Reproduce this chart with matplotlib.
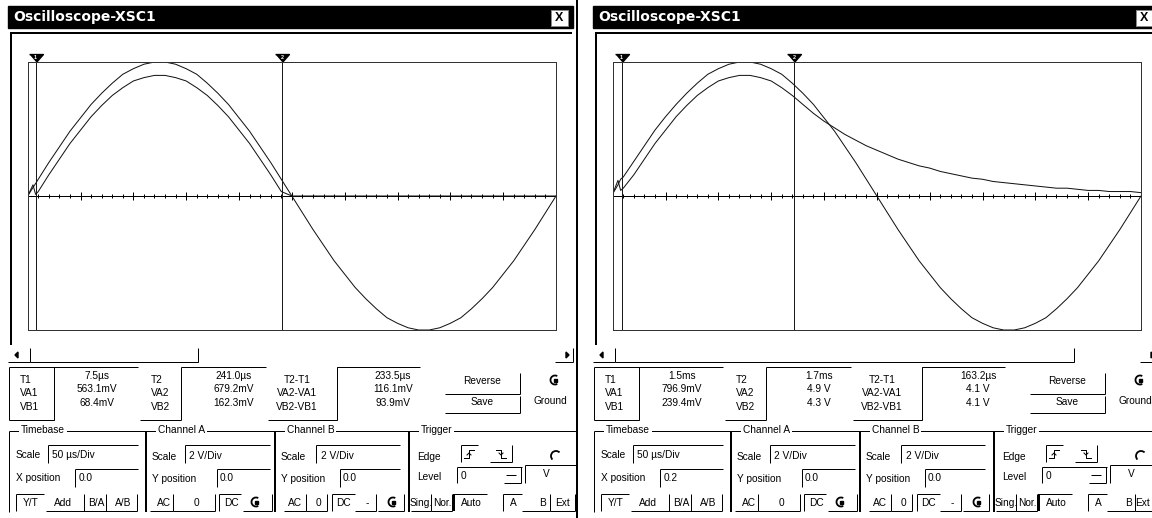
import numpy as np
import matplotlib
matplotlib.use("Agg")
import matplotlib.pyplot as plt
from matplotlib.patches import Rectangle, Arc, Polygon

# ---------------------------------------------------------------------------
# Data
# ---------------------------------------------------------------------------

# screen time of each sample (µs from the left edge), 50 µs/div x 10 div
t_us = [0, 5, 7.5, 10, 20, 30, 40, 50, 60, 70, 80, 90,
        100, 110, 120, 130, 140, 150, 160, 170, 180, 190,
        200, 210, 220, 230, 240, 250, 260, 270, 280, 290,
        300, 310, 320, 330, 340, 350, 360, 370, 380, 390,
        400, 410, 420, 430, 440, 450, 460, 470, 480, 490, 500]

# channel A (source) and channel B (rectifier output), volts
va_left = [0.0, 0.38, 0.56, 0.75, 1.5, 2.2, 2.9, 3.5, 4.1, 4.6, 5.05, 5.45,
           5.7, 5.9, 6.0, 6.0, 5.9, 5.7, 5.45, 5.05, 4.6, 4.1,
           3.5, 2.9, 2.2, 1.5, 0.75, 0.0, -0.75, -1.5, -2.2, -2.9,
           -3.5, -4.1, -4.6, -5.05, -5.45, -5.7, -5.9, -6.0, -6.0, -5.9,
           -5.7, -5.45, -5.05, -4.6, -4.1, -3.5, -2.9, -2.2, -1.5, -0.75, 0.0]
vb_left = [0.0, 0.5, 0.07, 0.2, 0.95, 1.65, 2.35, 2.95, 3.55, 4.05, 4.5, 4.85,
           5.15, 5.3, 5.4, 5.4, 5.3, 5.15, 4.85, 4.5, 4.05, 3.55,
           2.95, 2.35, 1.65, 0.95, 0.2, 0.0, 0.0, 0.0, 0.0, 0.0,
           0.0, 0.0, 0.0, 0.0, 0.0, 0.0, 0.0, 0.0, 0.0, 0.0,
           0.0, 0.0, 0.0, 0.0, 0.0, 0.0, 0.0, 0.0, 0.0, 0.0, 0.0]
va_right = [0.1, 0.5, 0.75, 0.85, 1.55, 2.25, 2.95, 3.55, 4.1, 4.6, 5.05, 5.45,
            5.7, 5.9, 6.0, 6.0, 5.9, 5.7, 5.45, 5.05, 4.6, 4.1,
            3.5, 2.9, 2.2, 1.5, 0.75, 0.0, -0.75, -1.5, -2.2, -2.9,
            -3.5, -4.1, -4.6, -5.05, -5.45, -5.7, -5.9, -6.0, -6.0, -5.9,
            -5.7, -5.45, -5.05, -4.6, -4.1, -3.5, -2.9, -2.2, -1.5, -0.75, 0.0]
vb_right = [0.1, 0.7, 0.25, 0.35, 0.95, 1.65, 2.35, 2.95, 3.55, 4.05, 4.5, 4.85,
            5.15, 5.3, 5.4, 5.4, 5.3, 5.15, 4.85, 4.5, 4.1, 3.7,
            3.35, 3.05, 2.75, 2.5, 2.25, 2.05, 1.85, 1.65, 1.5, 1.35,
            1.25, 1.1, 1.0, 0.9, 0.8, 0.75, 0.65, 0.6, 0.55, 0.5,
            0.45, 0.4, 0.35, 0.35, 0.3, 0.25, 0.25, 0.2, 0.2, 0.2, 0.15]

cursors_left = [7.5, 241.0]     # T1, T2 on screen (µs)
cursors_right = [8.5, 171.7]

meas_labels = [["T1", "VA1", "VB1"],
               ["T2", "VA2", "VB2"],
               ["T2-T1", "VA2-VA1", "VB2-VB1"]]
meas_left = [["7.5µs", "563.1mV", "68.4mV"],
             ["241.0µs", "679.2mV", "162.3mV"],
             ["233.5µs", "116.1mV", "93.9mV"]]
meas_right = [["1.5ms", "796.9mV", "239.4mV"],
              ["1.7ms", "4.9 V", "4.3 V"],
              ["163.2µs", "4.1 V", "4.1 V"]]

timebase_scale = "50 µs/Div"
xpos_left = "0.0"
xpos_right = "0.2"
cha_scale = "2 V/Div"
chb_scale = "2 V/Div"
cha_ypos = "0.0"
chb_ypos = "0.0"
trig_level = "0"
title = "Oscilloscope-XSC1"

# ---------------------------------------------------------------------------
# Canvas (pixel coordinates for the window chrome)
# ---------------------------------------------------------------------------

W, H = 1152, 518
PX = 0.72          # one pixel in points at dpi 100
FS = 7.3
plt.rcParams["font.family"] = ["Liberation Sans", "DejaVu Sans"]

fig = plt.figure(figsize=(W / 100, H / 100), dpi=100)
ui = fig.add_axes([0, 0, 1, 1])
ui.set_xlim(0, W)
ui.set_ylim(H, 0)
ui.axis("off")


def hline(x0, x1, y, w=1, c="k"):
    ui.plot([x0, x1], [y, y], color=c, lw=w * PX, solid_capstyle="butt")


def vline(x, y0, y1, w=1, c="k"):
    ui.plot([x, x], [y0, y1], color=c, lw=w * PX, solid_capstyle="butt")


def raised(x0, y0, x1, y1):
    hline(x0, x1, y1)
    vline(x1, y0, y1)


def sunken(x0, y0, x1, y1, w=1):
    hline(x0, x1, y0)
    vline(x0, y0, y1, w)


def txt(x, y, s, ha="left", size=FS, **kw):
    ui.text(x, y, s, ha=ha, va="center", fontsize=size, color="k", **kw)


def ground_icon(x, y):
    ui.add_patch(Arc((x, y), 9, 9, theta1=60, theta2=300, lw=1.8 * PX))
    ui.add_patch(Rectangle((x - 1, y - 1.5), 3, 3, color="k"))


def edge_symbol(x, y, rising):
    a, b = (4, -4) if rising else (-4, 4)
    ui.plot([x - 5, x, x, x + 5], [y + a, y + a, y + b, y + b], color="k", lw=PX)
    d = 1 if rising else -1
    ui.plot([x - 2, x, x + 2], [y + d, y - d, y + d], color="k", lw=PX)


def scope(ox, va, vb, cur):
    x0, x1, y0, y1 = ox + 27.7, ox + 556, 62, 330
    ax = fig.add_axes([x0 / W, 1 - y1 / H, (x1 - x0) / W, (y1 - y0) / H])
    ax.set_xlim(0, 500)
    ax.set_ylim(-6, 6)
    ax.set_xticks([])
    ax.set_yticks([])
    for s in ax.spines.values():
        s.set_color("#333333")
        s.set_linewidth(PX)
    ax.axhline(0, color="k", lw=PX)
    minor = np.arange(0, 501, 10)
    major = np.arange(0, 501, 50)
    ax.plot(minor, np.zeros(len(minor)), ls="none", marker="|", ms=2.9, mew=PX, color="k")
    ax.plot(major, np.zeros(len(major)), ls="none", marker="|", ms=5.8, mew=PX, color="k")
    ax.plot(t_us, np.clip(va, -6, 6), color="#111111", lw=PX)
    ax.plot(t_us, vb, color="#111111", lw=PX)
    tri = [(-7, 4), (7, 4), (0, -4)]
    for i, c in enumerate(cur):
        ax.axvline(c, color="#1a1a1a", lw=PX)
        ax.plot([c], [6.18], marker=tri, ms=10, color="k", clip_on=False)
        ax.text(c, 6.22, str(i + 1), fontsize=4, color="w", ha="center",
                va="center", clip_on=False, fontweight="bold")
    return ax


def window(ox, va, vb, cur, meas, xpos, thumb):
    # title bar
    ui.add_patch(Rectangle((ox + 8, 6), 565, 22, color="k"))
    ui.text(ox + 13, 17.5, title, color="w", fontsize=10, fontweight="bold",
            va="center", family=["DejaVu Sans"])
    ui.add_patch(Rectangle((ox + 551, 10), 17, 16, fc="w", ec="#888888", lw=PX))
    ui.text(ox + 559.5, 18, "X", fontsize=9, fontweight="bold", ha="center", va="center")

    # sunken display panel
    hline(ox + 10, ox + 572, 33, 2)
    vline(ox + 11, 33, 345, 2)
    scope(ox, va, vb, cur)

    # scroll bar
    raised(ox + 8, 348, ox + 30, 362)
    ui.add_patch(Polygon([(ox + 15, 355), (ox + 18, 352), (ox + 18, 358)], color="k"))
    raised(ox + 30, 348, ox + thumb[1], 362)
    hline(ox + thumb[0], ox + thumb[1], 362)
    raised(ox + 555, 348, ox + 573, 362)
    ui.add_patch(Polygon([(ox + 569, 355), (ox + 566, 352), (ox + 566, 358)], color="k"))

    # measurement table
    sunken(ox + 9, 367, ox + 138, 420)
    raised(ox + 9, 367, ox + 54, 420)
    vline(ox + 54, 367, 420)
    raised(ox + 140, 367, ox + 181, 420)
    hline(ox + 181, ox + 266, 367)
    raised(ox + 268, 367, ox + 337, 420)
    hline(ox + 337, ox + 420, 367)
    vline(ox + 337, 367, 420)
    label_x = [(ox + 20, "left"), (ox + 151, "left"), (ox + 297, "center")]
    value_x = [ox + 97, ox + 234, ox + 393]
    for col in range(3):
        for row in range(3):
            txt(label_x[col][0], 380 + 13.3 * row, meas_labels[col][row], ha=label_x[col][1])
            txt(value_x[col], 376 + 13.3 * row, meas[col][row], ha="center")

    # Reverse / Save / Ground
    raised(ox + 445, 373, ox + 520, 394)
    txt(ox + 482, 381, "Reverse", ha="center")
    raised(ox + 445, 396, ox + 520, 413)
    txt(ox + 482, 402, "Save", ha="center")
    ground_icon(ox + 555, 380)
    txt(ox + 550, 401, "Ground", ha="center")

    # group boxes
    for gx, name, w in [(9, "Timebase", 1), (146, "Channel A", 2),
                        (275, "Channel B", 2), (409, "Trigger", 2)]:
        vline(ox + gx, 431, 512, w)
        hline(ox + gx, ox + 575, 431)
        ui.text(ox + gx + 12, 430, name, ha="left", va="center", fontsize=FS,
                bbox=dict(fc="w", ec="none", pad=1.2))

    # Timebase
    txt(ox + 16, 455, "Scale")
    sunken(ox + 48, 445, ox + 138, 463)
    txt(ox + 52, 455, timebase_scale)
    txt(ox + 16, 478, "X position")
    sunken(ox + 75, 469, ox + 138, 487)
    txt(ox + 79, 478, xpos)
    sunken(ox + 16, 494, ox + 44, 511)
    txt(ox + 31, 503, "Y/T", ha="center")
    hline(ox + 46, ox + 137, 511)
    for rx, lab, cx in [(84, "Add", 63), (106, "B/A", 96), (137, "A/B", 123)]:
        vline(ox + rx, 494, 511)
        txt(ox + cx, 503, lab, ha="center")

    # Channel A
    txt(ox + 152, 457, "Scale")
    sunken(ox + 185, 445, ox + 270, 463)
    txt(ox + 189, 456, cha_scale)
    txt(ox + 152, 479, "Y position")
    sunken(ox + 217, 469, ox + 270, 487)
    txt(ox + 220, 478, cha_ypos)
    raised(ox + 150, 494, ox + 173, 511)
    txt(ox + 164, 503, "AC", ha="center")
    raised(ox + 173, 494, ox + 215, 511)
    txt(ox + 196, 503, "0", ha="center")
    sunken(ox + 219, 494, ox + 241, 511)
    txt(ox + 231, 503, "DC", ha="center")
    raised(ox + 243, 494, ox + 272, 511)
    ground_icon(ox + 256, 502)

    # Channel B
    txt(ox + 281, 457, "Scale")
    sunken(ox + 316, 445, ox + 400, 463)
    txt(ox + 321, 456, chb_scale)
    txt(ox + 281, 479, "Y position")
    sunken(ox + 340, 469, ox + 400, 487)
    txt(ox + 343, 478, chb_ypos)
    raised(ox + 284, 494, ox + 306, 511)
    txt(ox + 295, 503, "AC", ha="center")
    raised(ox + 306, 494, ox + 327, 511)
    txt(ox + 318, 503, "0", ha="center")
    sunken(ox + 332, 494, ox + 355, 511)
    txt(ox + 343, 503, "DC", ha="center")
    raised(ox + 355, 494, ox + 376, 511)
    txt(ox + 367, 503, "-", ha="center")
    raised(ox + 378, 494, ox + 404, 511)
    ground_icon(ox + 393, 502)

    # Trigger
    txt(ox + 417, 457, "Edge")
    sunken(ox + 461, 445, ox + 478, 462)
    edge_symbol(ox + 469, 454, True)
    raised(ox + 490, 445, ox + 512, 462)
    edge_symbol(ox + 501, 454, False)
    ui.add_patch(Arc((ox + 556, 456), 10, 10, theta1=135, theta2=315, lw=1.8 * PX))
    txt(ox + 417, 477, "Level")
    sunken(ox + 457, 467, ox + 522, 483)
    txt(ox + 461, 476, trig_level)
    vline(ox + 521, 467, 483)
    hline(ox + 504, ox + 521, 483)
    hline(ox + 506, ox + 516, 475)
    sunken(ox + 525, 465, ox + 576, 483)
    txt(ox + 546, 474, "V", ha="center")
    raised(ox + 411, 494, ox + 431, 511)
    txt(ox + 421, 503, "Sing.", ha="center")
    raised(ox + 431, 494, ox + 452, 511)
    txt(ox + 442, 503, "Nor.", ha="center")
    sunken(ox + 454, 494, ox + 487, 511, 2)
    txt(ox + 471, 503, "Auto", ha="center")
    sunken(ox + 503, 494, ox + 522, 511)
    txt(ox + 513, 503, "A", ha="center")
    raised(ox + 522, 494, ox + 550, 511)
    txt(ox + 543, 503, "B", ha="center")
    raised(ox + 550, 494, ox + 575, 511)
    txt(min(ox + 562, W - 9), 503, "Ext", ha="center")


window(0, va_left, vb_left, cursors_left, meas_left, xpos_left, (31, 198))
window(585, va_right, vb_right, cursors_right, meas_right, xpos_right, (360, 489))

# separator between the two screenshots
vline(577, 0, H, 2)

fig.savefig("out.png", dpi=100)
